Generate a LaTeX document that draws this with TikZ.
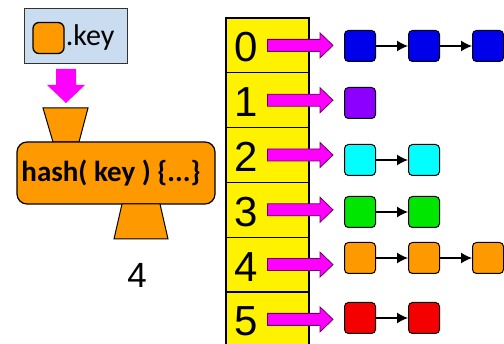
\documentclass[tikz,border=0pt]{standalone}
\usepackage{fontspec}
\setmainfont{Carlito}
\newfontfamily\numfont{Liberation Sans}
\usepackage{xcolor}
\usetikzlibrary{arrows.meta,calc}

\definecolor{keyblue}{RGB}{201,220,240}
\definecolor{hashorange}{RGB}{255,153,0}
\definecolor{pointer}{RGB}{255,0,255}
\definecolor{itblue}{RGB}{0,0,235}
\definecolor{itpurple}{RGB}{140,0,255}
\definecolor{itcyan}{RGB}{0,255,255}
\definecolor{itgreen}{RGB}{0,230,0}
\definecolor{itred}{RGB}{245,0,0}

% fat magenta arrow from a cell to the first item of its list
\newcommand{\bigarrow}[2]{%
  \draw[bigarrow] let \p1=(#1.center), \p2=(#2.west) in
    (\x1,\y1+6pt) -- (\x2-24pt,\y1+6pt) -- (\x2-24pt,\y1+12.5pt) -- (\x2-11pt,\y1)
    -- (\x2-24pt,\y1-12.5pt) -- (\x2-24pt,\y1-6pt) -- (\x1,\y1-6pt) -- cycle;}

\begin{document}
\begin{tikzpicture}[
    x=1pt, y=-1pt,
    node distance=54.8pt,
    cell/.style={rectangle, draw=black, line width=1.2pt, fill=yellow, minimum width=83pt, minimum height=54.8pt, inner sep=0pt},
    num/.style={font=\numfont\fontsize{42}{44}\selectfont, inner sep=0pt},
    item/.style={rectangle, rounded corners=4pt, draw=black, line width=1pt, minimum size=31pt, inner sep=0pt},
    link/.style={line width=1.3pt, -{Latex[length=11pt,width=11pt]}},
    bigarrow/.style={fill=pointer, draw=black!60!pointer, line width=0.8pt},
    funnel/.style={fill=hashorange, draw=black, line width=1pt}
]
\clip (0,0) rectangle (504,344);

% Key and hash function
\node (key) [rectangle, draw=black!80, line width=1pt, fill=keyblue, minimum width=103pt, minimum height=55pt] at (75.5,36.5) {};
\node (keyitem) [item, fill=hashorange, rounded corners=6pt, line width=1.3pt] at (48.5,38) {};
\node (keytext) [anchor=west, inner sep=1pt, font=\fontsize{30}{32}\selectfont] at (keyitem.east) {.key};

\fill[pointer] (56,69) -- (76,69) -- (76,85) -- (85,85) -- (66,103) -- (47,85) -- (56,85) -- cycle;
\draw[funnel] (43,108) -- (88,108) -- (79,142) -- (53,142) -- cycle;

\node (hash) [rectangle, rounded corners=10pt, draw=black, line width=1.2pt, fill=hashorange, minimum width=198pt, minimum height=62pt, font=\bfseries\fontsize{29}{31}\selectfont] at (116,173) {hash( key ) \{...\}\hspace*{10pt}};
\draw[funnel] (122,204) -- (160,204) -- (168,239) -- (114,239) -- cycle;
\node (result) [font=\numfont\fontsize{35}{37}\selectfont] at (137,275) {4};

% Table cells
\node (cell0) [cell] at (267.5,45.4) {};
\node (cell1) [cell, below of=cell0] {};
\node (cell2) [cell, below of=cell1] {};
\node (cell3) [cell, below of=cell2] {};
\node (cell4) [cell, below of=cell3] {};
\node (cell5) [cell, below of=cell4] {};

\node [num] at ([xshift=-21pt,yshift=-2pt]cell0.center) {0};
\node [num] at ([xshift=-21pt,yshift=-2pt]cell1.center) {1};
\node [num] at ([xshift=-21pt,yshift=-2pt]cell2.center) {2};
\node [num] at ([xshift=-21pt,yshift=-2pt]cell3.center) {3};
\node [num] at ([xshift=-21pt,yshift=-2pt]cell4.center) {4};
\node [num] at ([xshift=-21pt,yshift=-2pt]cell5.center) {5};

% Chained items
\node (b1) [item, fill=itblue] at (360,46) {};
\node (b2) [item, fill=itblue] at (424,46) {};
\node (b3) [item, fill=itblue] at (488,46) {};
\node (p1) [item, fill=itpurple] at (360,103) {};
\node (c1) [item, fill=itcyan] at (360,160) {};
\node (c2) [item, fill=itcyan] at (424,160) {};
\node (g1) [item, fill=itgreen] at (360,212) {};
\node (g2) [item, fill=itgreen] at (424,212) {};
\node (o1) [item, fill=hashorange] at (360,258) {};
\node (o2) [item, fill=hashorange] at (424,258) {};
\node (o3) [item, fill=hashorange] at (488,258) {};
\node (r1) [item, fill=itred] at (360,318) {};
\node (r2) [item, fill=itred] at (424,318) {};

\draw [link] (b1) -- (b2);
\draw [link] (b2) -- (b3);
\draw [link] (c1) -- (c2);
\draw [link] (g1) -- (g2);
\draw [link] (o1) -- (o2);
\draw [link] (o2) -- (o3);
\draw [link] (r1) -- (r2);

% Buckets to lists
\bigarrow{cell0}{b1}
\bigarrow{cell1}{p1}
\bigarrow{cell2}{c1}
\bigarrow{cell3}{g1}
\bigarrow{cell4}{o1}
\bigarrow{cell5}{r1}

\end{tikzpicture}
\end{document}
